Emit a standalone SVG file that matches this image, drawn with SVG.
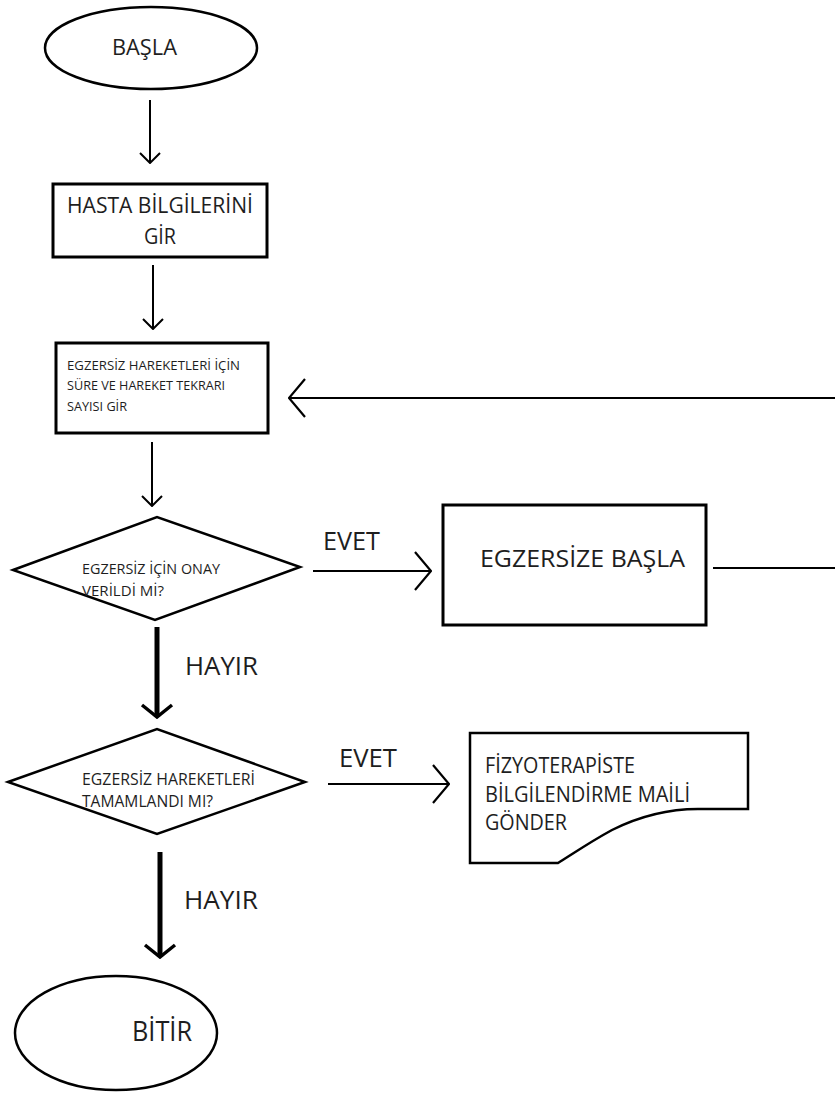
<svg xmlns="http://www.w3.org/2000/svg" width="835" height="1093" viewBox="0 0 835 1093">
  <style>
    .shape { fill: #ffffff; stroke: #000000; stroke-width: 2.5; }
    .box { fill: #ffffff; stroke: #000000; stroke-width: 3; }
    .lbl { font-family: "Open Sans", "Noto Sans", "Liberation Sans", sans-serif; fill: #1e1e1e; }
    .edge { fill: none; stroke: #000000; stroke-width: 2; }
    .edge-bold { fill: none; stroke: #000000; stroke-width: 5; }
  </style>
  <defs>
    <!-- open V heads for the thin vertical arrows -->
    <marker id="headV" markerUnits="userSpaceOnUse" viewBox="0 0 12 22" markerWidth="12" markerHeight="22" refX="11" refY="11" orient="auto">
      <path d="M1,1 L11,11 L1,21" fill="none" stroke="#000" stroke-width="2"/>
    </marker>
    <!-- wider open heads for the horizontal arrows -->
    <marker id="headH" markerUnits="userSpaceOnUse" viewBox="0 0 18 40" markerWidth="18" markerHeight="40" refX="17" refY="20" orient="auto">
      <path d="M1,1 L17,20 L1,39" fill="none" stroke="#000" stroke-width="2.2"/>
    </marker>
    <!-- heavy heads for the bold "HAYIR" arrows -->
    <marker id="headB" markerUnits="userSpaceOnUse" viewBox="0 0 16 36" markerWidth="16" markerHeight="36" refX="14" refY="18" orient="auto">
      <path d="M2,3 L14,18 L2,33" fill="none" stroke="#000" stroke-width="3.5"/>
    </marker>
  </defs>

  <!-- connectors -->
  <g id="connectors">
    <line class="edge" x1="150" y1="100" x2="150" y2="163" marker-end="url(#headV)"/>
    <line class="edge" x1="153" y1="265" x2="153" y2="329" marker-end="url(#headV)"/>
    <line class="edge" x1="152" y1="442" x2="152" y2="506" marker-end="url(#headV)"/>
    <!-- loop back from "EGZERSİZE BAŞLA" -->
    <line class="edge" x1="713" y1="568" x2="835" y2="568"/>
    <line class="edge" x1="835" y1="398" x2="289" y2="398" marker-end="url(#headH)"/>
    <!-- EVET branches -->
    <line class="edge" x1="313" y1="571" x2="431" y2="571" marker-end="url(#headH)"/>
    <line class="edge" x1="328" y1="784" x2="449" y2="784" marker-end="url(#headH)"/>
    <!-- HAYIR branches -->
    <line class="edge-bold" x1="157" y1="627" x2="157" y2="717" marker-end="url(#headB)"/>
    <line class="edge-bold" x1="160" y1="852" x2="160" y2="957" marker-end="url(#headB)"/>
    <text class="lbl" x="323" y="550" font-size="26" textLength="57" lengthAdjust="spacingAndGlyphs">EVET</text>
    <text class="lbl" x="339" y="767" font-size="26" textLength="58" lengthAdjust="spacingAndGlyphs">EVET</text>
    <text class="lbl" x="185" y="675" font-size="26" textLength="73" lengthAdjust="spacingAndGlyphs">HAYIR</text>
    <text class="lbl" x="184" y="909" font-size="26" textLength="74" lengthAdjust="spacingAndGlyphs">HAYIR</text>
  </g>

  <g id="start">
    <ellipse class="shape" cx="151" cy="48" rx="106" ry="41" stroke-width="3.5"/>
    <text class="lbl" x="112" y="55" font-size="21" textLength="65" lengthAdjust="spacingAndGlyphs">BAŞLA</text>
  </g>

  <g id="patient-info">
    <rect class="box" x="53" y="184" width="214" height="73"/>
    <text class="lbl" x="67" y="213" font-size="21" textLength="186" lengthAdjust="spacingAndGlyphs">HASTA BİLGİLERİNİ</text>
    <text class="lbl" x="144" y="244" font-size="21" textLength="32" lengthAdjust="spacingAndGlyphs">GİR</text>
  </g>

  <g id="exercise-settings">
    <rect class="box" x="56" y="343" width="212" height="90"/>
    <text class="lbl" x="67" y="370" font-size="13" textLength="173" lengthAdjust="spacingAndGlyphs">EGZERSİZ HAREKETLERİ İÇİN</text>
    <text class="lbl" x="67" y="390" font-size="13" textLength="158" lengthAdjust="spacingAndGlyphs">SÜRE VE HAREKET TEKRARI</text>
    <text class="lbl" x="67" y="411" font-size="13" textLength="60" lengthAdjust="spacingAndGlyphs">SAYISI GİR</text>
  </g>

  <g id="approval-check">
    <polygon class="shape" points="13,570 157,517 300,567 155,620"/>
    <text class="lbl" x="82" y="574" font-size="14" textLength="138" lengthAdjust="spacingAndGlyphs">EGZERSİZ İÇİN ONAY</text>
    <text class="lbl" x="82" y="596" font-size="14" textLength="82" lengthAdjust="spacingAndGlyphs">VERİLDİ Mİ?</text>
  </g>

  <g id="start-exercise">
    <rect class="box" x="443" y="505" width="263" height="120"/>
    <text class="lbl" x="480" y="567" font-size="23.5" textLength="205" lengthAdjust="spacingAndGlyphs">EGZERSİZE BAŞLA</text>
  </g>

  <g id="completion-check">
    <polygon class="shape" points="8,782 157,729 305,782 157,834"/>
    <text class="lbl" x="82" y="785" font-size="15.5" textLength="173" lengthAdjust="spacingAndGlyphs">EGZERSİZ HAREKETLERİ</text>
    <text class="lbl" x="82" y="807" font-size="15.5" textLength="131" lengthAdjust="spacingAndGlyphs">TAMAMLANDI MI?</text>
  </g>

  <g id="notify-therapist">
    <path class="shape" d="M470,733 L748,733 L748,809 L698,809 C670,809 640,816 612,830 C590,842 574,853 558,863 L470,863 Z"/>
    <text class="lbl" x="485" y="773" font-size="21" textLength="150" lengthAdjust="spacingAndGlyphs">FİZYOTERAPİSTE</text>
    <text class="lbl" x="485" y="802" font-size="21" textLength="205" lengthAdjust="spacingAndGlyphs">BİLGİLENDİRME MAİLİ</text>
    <text class="lbl" x="485" y="830" font-size="21" textLength="82" lengthAdjust="spacingAndGlyphs">GÖNDER</text>
  </g>

  <g id="end">
    <ellipse class="shape" cx="116" cy="1033" rx="101" ry="57"/>
    <text class="lbl" x="132" y="1041" font-size="28" textLength="60" lengthAdjust="spacingAndGlyphs">BİTİR</text>
  </g>
</svg>
